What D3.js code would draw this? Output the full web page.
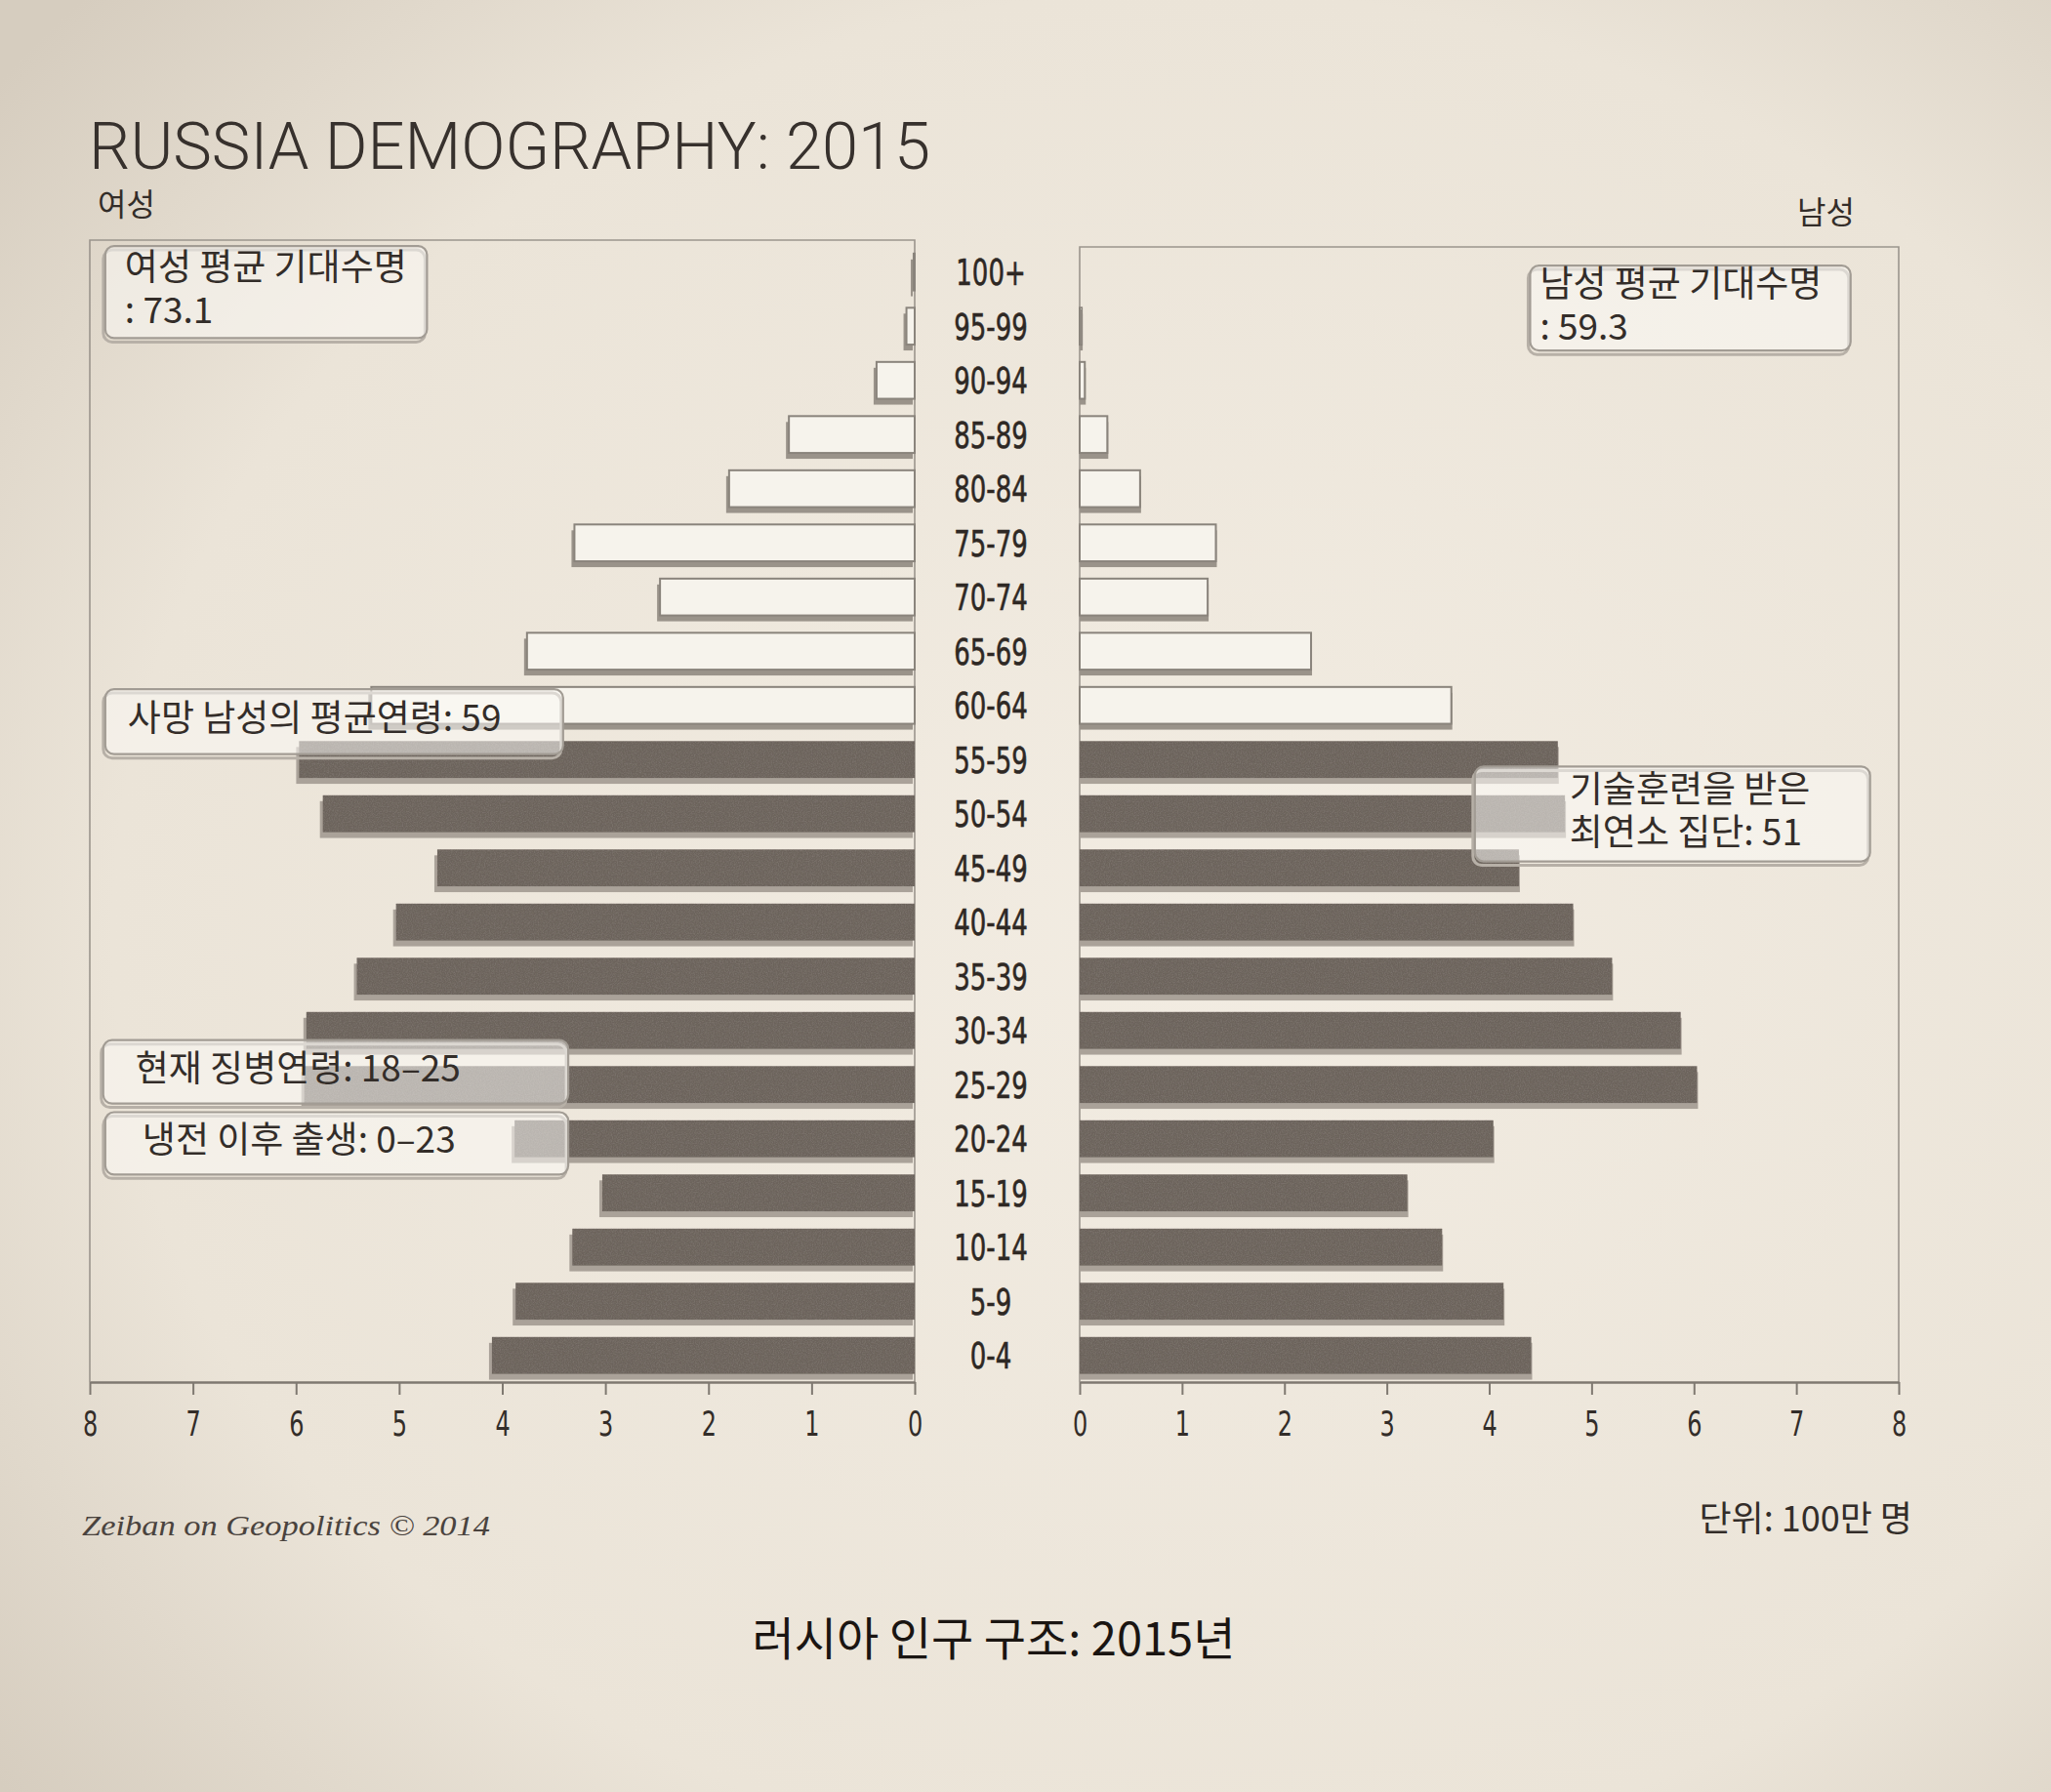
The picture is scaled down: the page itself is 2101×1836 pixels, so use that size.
<!DOCTYPE html>
<html>
<head>
<meta charset="utf-8">
<script src="https://cdn.jsdelivr.net/npm/d3@7"></script>
<style>
html, body { margin: 0; padding: 0; background: #e9e2d6; }
svg { display: block; }
</style>
</head>
<body>
<svg id="chart" width="2101" height="1836"></svg>
<script>
// ---- data (millions of people) ----
var ageGroups = ["100+", "95-99", "90-94", "85-89", "80-84", "75-79", "70-74", "65-69", "60-64",
    "55-59", "50-54", "45-49", "40-44", "35-39", "30-34", "25-29", "20-24", "15-19", "10-14", "5-9", "0-4"];
var femaleValues = [0.01, 0.08, 0.37, 1.22, 1.80, 3.30, 2.47, 3.76, 5.27,
    5.97, 5.74, 4.63, 5.03, 5.41, 5.90, 5.92, 3.88, 3.03, 3.32, 3.87, 4.10];
var maleValues = [0.00, 0.02, 0.05, 0.27, 0.59, 1.33, 1.25, 2.26, 3.63,
    4.67, 4.74, 4.29, 4.82, 5.20, 5.87, 6.03, 4.04, 3.20, 3.54, 4.14, 4.41];
var hollowGroups = ["100+", "95-99", "90-94", "85-89", "80-84", "75-79", "70-74", "65-69", "60-64"];
var tickValues = [0, 1, 2, 3, 4, 5, 6, 7, 8];

var titleText = "RUSSIA DEMOGRAPHY: 2015";
var femaleLabel = "여성";
var maleLabel = "남성";
var sourceText = "Zeiban on Geopolitics © 2014";
var unitText = "단위: 100만 명";
var captionText = "러시아 인구 구조: 2015년";
var noteTexts = [
    ["여성 평균 기대수명", ": 73.1"],
    ["남성 평균 기대수명", ": 59.3"],
    ["사망 남성의 평균연령: 59"],
    ["기술훈련을 받은", "최연소 집단: 51"],
    ["현재 징병연령: 18–25"],
    ["냉전 이후 출생: 0–23"]
];

// ---- layout ----
var config = {
    width: 2101,
    height: 1836,
    axisY: 1416,
    topLeft: 246,
    topRight: 253,
    labelX: 1015,
    ink: "#332d29",
    frame: "#9b958d",
    dark: "#6c635c",
    darkShadow: "#aaa299",
    hollow: "#f6f3ec",
    hollowStroke: "#8a847c",
    hollowShadow: "#9a938a"
};

// box placement in chart units: value range on a side, row offset and height in bands
var noteLayout = [
    { side: "f", from: 7.85, to: 4.73, row: 0.01, rows: 1.70, padX: 20 },
    { side: "m", from: 4.40, to: 7.53, row: 0.37, rows: 1.57, padX: 10 },
    { side: "f", from: 7.85, to: 3.41, row: 8.19, rows: 1.20, padX: 23 },
    { side: "m", from: 3.86, to: 7.72, row: 9.62, rows: 1.75, padX: 97 },
    { side: "f", from: 7.87, to: 3.36, row: 14.67, rows: 1.17, padX: 33 },
    { side: "f", from: 7.85, to: 3.36, row: 16.00, rows: 1.15, padX: 38 }
];

var svg = d3.select("#chart");
var defs = svg.append("defs");

var bg = defs.append("radialGradient").attr("id", "paper")
    .attr("cx", "58%").attr("cy", "52%").attr("r", "75%");
bg.append("stop").attr("offset", "0%").attr("stop-color", "#f2ece2");
bg.append("stop").attr("offset", "70%").attr("stop-color", "#ebe4d8");
bg.append("stop").attr("offset", "100%").attr("stop-color", "#d6cdbf");

var grain = defs.append("filter").attr("id", "grain")
    .attr("x", "0").attr("y", "0").attr("width", "1").attr("height", "1");
grain.append("feTurbulence").attr("type", "fractalNoise").attr("baseFrequency", "0.8")
    .attr("numOctaves", 2).attr("seed", 4).attr("result", "noise");
grain.append("feColorMatrix").attr("in", "noise").attr("type", "matrix")
    .attr("values", "0 0 0 0 0.22  0 0 0 0 0.19  0 0 0 0 0.17  1.5 0 0 0 -0.55")
    .attr("result", "specks");
grain.append("feComposite").attr("in", "specks").attr("in2", "SourceGraphic")
    .attr("operator", "in").attr("result", "inside");
var merge = grain.append("feMerge");
merge.append("feMergeNode").attr("in", "SourceGraphic");
merge.append("feMergeNode").attr("in", "inside");

svg.append("rect").attr("width", config.width).attr("height", config.height).attr("fill", "url(#paper)");

// ---- scales ----
var xLeft = d3.scaleLinear().domain([0, 8]).range([937, 92]);
var xRight = d3.scaleLinear().domain([0, 8]).range([1106, 1945]);
var y = d3.scaleBand().domain(ageGroups).range([251.5, 1417]).padding(0);
var step = y.step();
var barH = step * 0.68;
var barOff = step * 0.15;

var rows = ageGroups.map(function (age, i) {
    return { age: age, f: femaleValues[i], m: maleValues[i], hollow: hollowGroups.indexOf(age) >= 0 };
});

// ---- frames ----
svg.append("path")
    .attr("d", "M" + xLeft(8) + "," + config.axisY + "V" + config.topLeft + "H" + xLeft(0) + "V" + config.axisY)
    .attr("fill", "none").attr("stroke", config.frame).attr("stroke-width", 1.6);
svg.append("path")
    .attr("d", "M" + xRight(0) + "," + config.axisY + "V" + config.topRight + "H" + xRight(8) + "V" + config.axisY)
    .attr("fill", "none").attr("stroke", config.frame).attr("stroke-width", 1.6);

// ---- bars ----
function drawSide(key, x, dir) {
    var list = rows.filter(function (d) { return d[key] > 0.005; });
    var g = svg.append("g");
    // shadow strips under each bar
    g.selectAll("rect.shadow").data(list).enter().append("rect")
        .attr("class", "shadow")
        .attr("x", function (d) { return Math.min(x(0), x(d[key])) - (dir < 0 ? 3 : 0); })
        .attr("y", function (d) { return y(d.age) + barOff + 6; })
        .attr("width", function (d) { return Math.abs(x(d[key]) - x(0)) + 1; })
        .attr("height", barH)
        .attr("fill", function (d) { return d.hollow ? config.hollowShadow : config.darkShadow; });

    g.append("g").attr("filter", "url(#grain)")
        .selectAll("rect").data(list.filter(function (d) { return !d.hollow; })).enter().append("rect")
        .attr("x", function (d) { return Math.min(x(0), x(d[key])); })
        .attr("y", function (d) { return y(d.age) + barOff; })
        .attr("width", function (d) { return Math.abs(x(d[key]) - x(0)); })
        .attr("height", barH)
        .attr("fill", config.dark);

    g.selectAll("rect.hollow").data(list.filter(function (d) { return d.hollow; })).enter().append("rect")
        .attr("class", "hollow")
        .attr("x", function (d) { return Math.min(x(0), x(d[key])); })
        .attr("y", function (d) { return y(d.age) + barOff; })
        .attr("width", function (d) { return Math.abs(x(d[key]) - x(0)); })
        .attr("height", barH)
        .attr("fill", config.hollow)
        .attr("stroke", config.hollowStroke)
        .attr("stroke-width", 2);
}
drawSide("f", xLeft, -1);
drawSide("m", xRight, 1);

// ---- axes ----
var numFont = "'Liberation Sans Narrow','DejaVu Sans Condensed','Roboto Condensed',sans-serif";

function drawAxis(scale) {
    var ax = svg.append("g")
        .attr("transform", "translate(0," + config.axisY + ")")
        .call(d3.axisBottom(scale).tickValues(tickValues).tickFormat(d3.format("d"))
            .tickSize(13).tickSizeOuter(0).tickPadding(16));
    ax.select(".domain").attr("stroke", "#7f7971").attr("stroke-width", 2.5);
    ax.selectAll(".tick line").attr("stroke", "#7f7971").attr("stroke-width", 2);
    ax.selectAll(".tick text")
        .attr("fill", config.ink)
        .attr("font-family", numFont)
        .attr("font-size", 36)
        .attr("transform", "scale(0.74,1)");
}
drawAxis(xLeft);
drawAxis(xRight);

// ---- age labels ----
svg.append("g").selectAll("text").data(ageGroups).enter().append("text")
    .attr("transform", function (d) {
        return "translate(" + config.labelX + "," + (y(d) + step / 2 + 13) + ") scale(0.76,1)";
    })
    .attr("text-anchor", "middle")
    .attr("font-family", numFont)
    .attr("font-size", 38)
    .attr("stroke", "#2e2824")
    .attr("stroke-width", 0.6)
    .attr("fill", "#2e2824")
    .text(function (d) { return d; });

// ---- callout boxes ----
var korFont = "'Noto Sans CJK KR','Noto Sans',sans-serif";
var notes = svg.append("g");
noteLayout.forEach(function (n, i) {
    var sx = n.side === "f" ? xLeft : xRight;
    var x0 = Math.min(sx(n.from), sx(n.to));
    var x1 = Math.max(sx(n.from), sx(n.to));
    var y0 = y.range()[0] + n.row * step;
    var h = n.rows * step;
    notes.append("rect")
        .attr("x", x0 - 2).attr("y", y0 + 4).attr("width", x1 - x0).attr("height", h)
        .attr("rx", 9).attr("fill", "none").attr("stroke", "#b7b0a7").attr("stroke-width", 3);
    notes.append("rect")
        .attr("x", x0).attr("y", y0).attr("width", x1 - x0).attr("height", h)
        .attr("rx", 9).attr("fill", "#fbf9f5").attr("fill-opacity", 0.55)
        .attr("stroke", "#a29c94").attr("stroke-width", 2.2);
    var lines = noteTexts[i];
    var lineGap = 44;
    var cy = y0 + h / 2 - 3;
    lines.forEach(function (line, j) {
        notes.append("text")
            .attr("x", x0 + n.padX)
            .attr("y", cy + (j - (lines.length - 1) / 2) * lineGap + 13)
            .attr("font-family", korFont)
            .attr("font-size", 37)
            .attr("fill", config.ink)
            .text(line);
    });
});

// ---- titles & footers ----
svg.append("text")
    .attr("x", 91).attr("y", 173)
    .attr("font-family", "Roboto, 'Liberation Sans', sans-serif")
    .attr("font-weight", 300)
    .attr("font-size", 66)
    .attr("textLength", 862)
    .attr("lengthAdjust", "spacingAndGlyphs")
    .attr("fill", "#37312d")
    .text(titleText);

svg.append("text")
    .attr("x", 100).attr("y", 221)
    .attr("font-family", korFont).attr("font-size", 32)
    .attr("fill", config.ink).text(femaleLabel);
svg.append("text")
    .attr("x", 1900).attr("y", 229).attr("text-anchor", "end")
    .attr("font-family", korFont).attr("font-size", 32)
    .attr("fill", config.ink).text(maleLabel);

svg.append("text")
    .attr("x", 84).attr("y", 1573)
    .attr("font-family", "'Liberation Serif','DejaVu Serif',serif")
    .attr("font-style", "italic")
    .attr("font-size", 30)
    .attr("textLength", 418)
    .attr("lengthAdjust", "spacingAndGlyphs")
    .attr("fill", "#4a433e")
    .text(sourceText);

svg.append("text")
    .attr("x", 1959).attr("y", 1569).attr("text-anchor", "end")
    .attr("font-family", korFont).attr("font-size", 36)
    .attr("fill", config.ink).text(unitText);

svg.append("text")
    .attr("x", 1018).attr("y", 1696).attr("text-anchor", "middle")
    .attr("font-family", korFont).attr("font-size", 47).attr("font-weight", 400)
    .attr("fill", "#1a1512").text(captionText);
</script>
</body>
</html>
